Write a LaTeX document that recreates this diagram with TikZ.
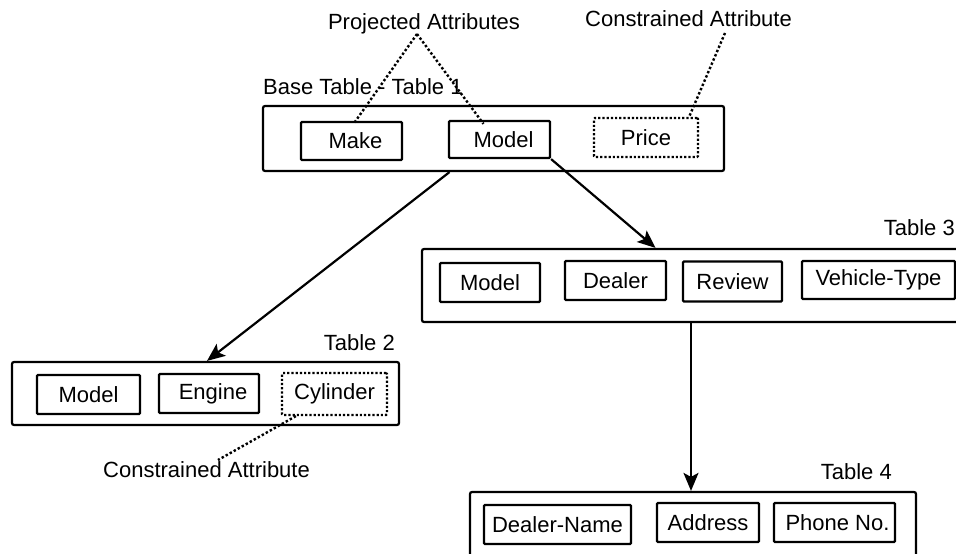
\documentclass[tikz,border=0pt]{standalone}
\usepackage{fontspec}
\setmainfont{Liberation Sans}
\usetikzlibrary{arrows.meta}
\begin{document}
\begin{tikzpicture}[x=1pt,y=-1pt,
  tablebox/.style={draw, line width=2.2pt, rounded corners=2pt, inner sep=0pt},
  attr/.style={draw, line width=2.2pt, rounded corners=1pt, inner sep=0pt,
    font=\fontsize{22}{26}\selectfont},
  cattr/.style={attr, dash pattern=on 2.2pt off 2pt},
  lbl/.style={inner sep=0pt, font=\fontsize{22}{26}\selectfont},
  link/.style={line width=2.4pt, dash pattern=on 2.4pt off 2.2pt},
  flow/.style={line width=2.2pt, -{Stealth[length=18pt,width=15pt,inset=4pt]}}]
\useasboundingbox (0,0) rectangle (956,554);
\clip (0,0) rectangle (956,554);

% Base table
\node[tablebox, minimum width=461pt, minimum height=65pt] (t1) at (493.5,138.5) {};
\node[attr, minimum width=101pt, minimum height=38pt] (make) at (351.5,141) {\hspace{8pt}Make};
\node[attr, minimum width=101pt, minimum height=37pt] (model1) at (499.5,139.5) {\hspace{8pt}Model};
\node[cattr, minimum width=104pt, minimum height=39pt] (price) at (646,137.5) {Price};
\node[lbl, anchor=base west] (t1lbl) at (263,94) {Base Table - Table 1};

% Annotations on the base table
\node[lbl, anchor=base] (proj) at (424,29) {Projected Attributes};
\node[lbl, anchor=base west] (cons1) at (585,27) {Constrained Attribute};
\coordinate (projfoot) at (417,34);
\coordinate (consfoot) at (725,33);
\draw[link] (projfoot) -- ([xshift=2pt,yshift=-3pt]make.north);
\draw[link] (projfoot) -- ([xshift=-16pt,yshift=-4pt]model1.north);
\draw[link] (consfoot) -- ([xshift=-10pt]price.north east);

% Table 3
\node[tablebox, minimum width=553pt, minimum height=73pt] (t3) at (698.5,285.5) {};
\node[attr, minimum width=100pt, minimum height=39pt] (model3) at (490,282.5) {Model};
\node[attr, minimum width=101pt, minimum height=39pt] (dealer) at (615.5,280.5) {Dealer};
\node[attr, minimum width=99pt, minimum height=40pt] (review) at (732.5,281.5) {Review};
\node[attr, minimum width=153pt, minimum height=38pt] (vtype) at (878.5,280) {Vehicle-Type};
\node[lbl, anchor=base east] (t3lbl) at (955,235) {Table 3};

% Table 2
\node[tablebox, minimum width=387pt, minimum height=63pt] (t2) at (205.5,393.5) {};
\node[attr, minimum width=103pt, minimum height=39pt] (model2) at (88.5,394.5) {Model};
\node[attr, minimum width=100pt, minimum height=39pt] (engine) at (209,393.5) {\hspace{8pt}Engine};
\node[cattr, minimum width=105pt, minimum height=42pt] (cyl) at (334.5,394) {Cylinder};
\node[lbl, anchor=base east] (t2lbl) at (395,350) {Table 2};
\node[lbl, anchor=base west] (cons2) at (103,477) {Constrained Attribute};
\coordinate (cons2top) at (218,460);
\draw[link] ([xshift=15pt]cyl.south west) -- (cons2top);

% Table 4
\node[tablebox, minimum width=446pt, minimum height=88pt] (t4) at (693,536) {};
\node[attr, minimum width=147pt, minimum height=39pt] (dname) at (557.5,524.5) {Dealer-Name};
\node[attr, minimum width=102pt, minimum height=39pt] (addr) at (708,522.5) {Address};
\node[attr, minimum width=121pt, minimum height=39pt] (phone) at (834.5,522.5) {\hspace{6pt}Phone No.};
\node[lbl, anchor=base east] (t4lbl) at (892,479) {Table 4};

% Join arrows
\draw[flow] ([xshift=-44pt]t1.south) -- ([xshift=1.5pt]t2.north);
\draw[flow] (model1.south east) -- ([xshift=-43pt]t3.north);
\draw[flow] ([xshift=-7.5pt]t3.south) -- ([xshift=-2pt]t4.north);
\end{tikzpicture}
\end{document}
